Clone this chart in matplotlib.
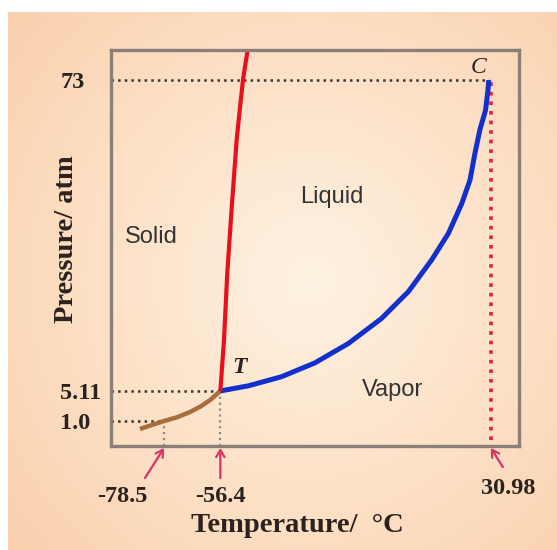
"""
CO2 phase diagram (schematic) with triple point T and critical point C.
"""

import numpy as np
import matplotlib
matplotlib.use('Agg')
import matplotlib.pyplot as plt
from matplotlib.colors import LinearSegmentedColormap

# Tick values and their schematic positions (diagram units, 0-100 in the box)
temp_labels = ['-78.5', '-56.4', '30.98']
temp_pos = [13.0, 26.8, 93.1]
pres_labels = ['1.0', '5.11', '73']
pres_pos = [6.3, 13.9, 92.4]

# Phase boundaries (diagram units)
subl_x = [7.1, 10.0, 13.0, 16.3, 19.4, 22.0, 24.3, 26.8]
subl_y = [4.3, 5.3, 6.3, 7.3, 8.6, 10.0, 11.6, 13.9]
melt_x = [26.8, 27.7, 28.5, 29.6, 30.8, 31.6, 32.4, 33.5]
melt_y = [13.9, 26.8, 43.7, 60.4, 77.3, 85.3, 92.9, 100.0]
vap_x = [26.8, 33.7, 41.8, 50.0, 58.2, 66.3, 72.9, 78.6, 82.7, 86.0, 88.0,
         89.2, 90.4, 91.8, 92.4, 92.6]
vap_y = [13.9, 15.2, 17.5, 21.0, 25.9, 32.2, 39.0, 47.0, 53.7, 61.3, 67.2,
         73.9, 79.8, 84.8, 89.9, 92.4]

regions = ['Solid', 'Liquid', 'Vapor']
region_x = [9.8, 54.2, 68.9]
region_y = [52.8, 62.9, 14.1]

SERIF = 'Liberation Serif'
SANS = 'Liberation Sans'
TXT = '#2b2220'
ARROW = '#d8336a'

W, H = 557, 550
fig = plt.figure(figsize=(W / 100, H / 100), dpi=100)

# peach background with soft radial gradient
bg = fig.add_axes([8 / W, 0, 1 - 8 / W, 1 - 12 / H])
yy, xx = np.mgrid[0:1:200j, 0:1:200j]
r = np.sqrt(((xx - 0.55) / 0.8) ** 2 + ((yy - 0.5) / 0.85) ** 2)
cmap = LinearSegmentedColormap.from_list('peach', ['#fef2e2', '#fde2c8', '#fad0ae'])
bg.imshow(np.clip(r, 0, 1), cmap=cmap, extent=[0, 1, 0, 1], origin='lower', aspect='auto')
bg.set_axis_off()

ax = fig.add_axes([111 / W, (H - 446) / H, 408 / W, 396 / H])
ax.set_facecolor('none')
ax.set_xlim(0, 100)
ax.set_ylim(0, 100)
for s in ax.spines.values():
    s.set_color('#8a8077')
    s.set_linewidth(2.4)

# guide lines
ax.plot([0, temp_pos[2] - 0.5], [pres_pos[2]] * 2, ls=':', lw=1.8, color='#3a3430')
ax.plot([0, temp_pos[1]], [pres_pos[1]] * 2, ls=':', lw=1.8, color='#3a3430')
ax.plot([0, temp_pos[0]], [pres_pos[0]] * 2, ls=':', lw=1.8, color='#3a3430')
ax.plot([temp_pos[0]] * 2, [0, pres_pos[0]], ls=':', lw=1.6, color='#8c8c8c')
ax.plot([temp_pos[1]] * 2, [0, pres_pos[1]], ls=':', lw=1.6, color='#8c8c8c')
ax.plot([temp_pos[2]] * 2, [1.5, pres_pos[2]], ls=':', lw=2.6, color='#e3203c')

# phase boundaries
ax.plot(subl_x, subl_y, color='#a86c3e', lw=3.2, solid_capstyle='butt', solid_joinstyle='round')
ax.plot(vap_x, vap_y, color='#1230cc', lw=3.6, solid_capstyle='butt', solid_joinstyle='round')
ax.plot(melt_x, melt_y, color='#e8101e', lw=3.0, solid_capstyle='butt', solid_joinstyle='round',
        clip_on=False)

for name, x, y in zip(regions, region_x, region_y):
    ax.text(x, y, name, family=SANS, fontsize=17, color='#333333', ha='center', va='center')

ax.text(31.6, 19.7, 'T', family=SERIF, fontsize=17, fontweight='bold', fontstyle='italic',
        color=TXT, ha='center', va='center')
ax.text(90.0, 95.5, 'C', family=SERIF, fontsize=17, fontstyle='italic', color=TXT,
        ha='center', va='center')

# y tick labels
ax.set_xticks([])
ax.set_yticks(pres_pos, pres_labels)
ax.tick_params(axis='y', length=0, pad=36.5)
for lab in ax.get_yticklabels():
    lab.set_ha('left')
    lab.set_family(SERIF)
    lab.set_fontweight('bold')
    lab.set_fontsize(17.5)
    lab.set_color(TXT)

# temperature labels with arrows
tails = [(-19, -30), (0, -30), (12, -19)]
label_off = [(-42, -49), (0, -49), (17, -41)]
for lbl, x, t, o in zip(temp_labels, temp_pos, tails, label_off):
    ax.annotate('', xy=(x, -0.5), xytext=t, textcoords='offset pixels',
                arrowprops=dict(arrowstyle='->,head_length=0.5,head_width=0.3',
                                color=ARROW, lw=1.6, shrinkA=0, shrinkB=0),
                annotation_clip=False)
    ax.annotate(lbl, xy=(x, -0.5), xytext=o, textcoords='offset pixels',
                family=SERIF, fontweight='bold', fontsize=17.5, color=TXT,
                ha='center', va='center', annotation_clip=False)

ax.text(0.457, -0.2, 'Temperature/  \u00b0C', transform=ax.transAxes, family=SERIF,
        fontweight='bold', fontsize=20.5, color=TXT, ha='center', va='center')
ax.text(-0.108, 0.522, 'Pressure/ atm', transform=ax.transAxes, family=SERIF,
        fontweight='bold', fontsize=20.5, color=TXT, ha='center', va='center', rotation=90)

fig.savefig('out.png', dpi=100)
